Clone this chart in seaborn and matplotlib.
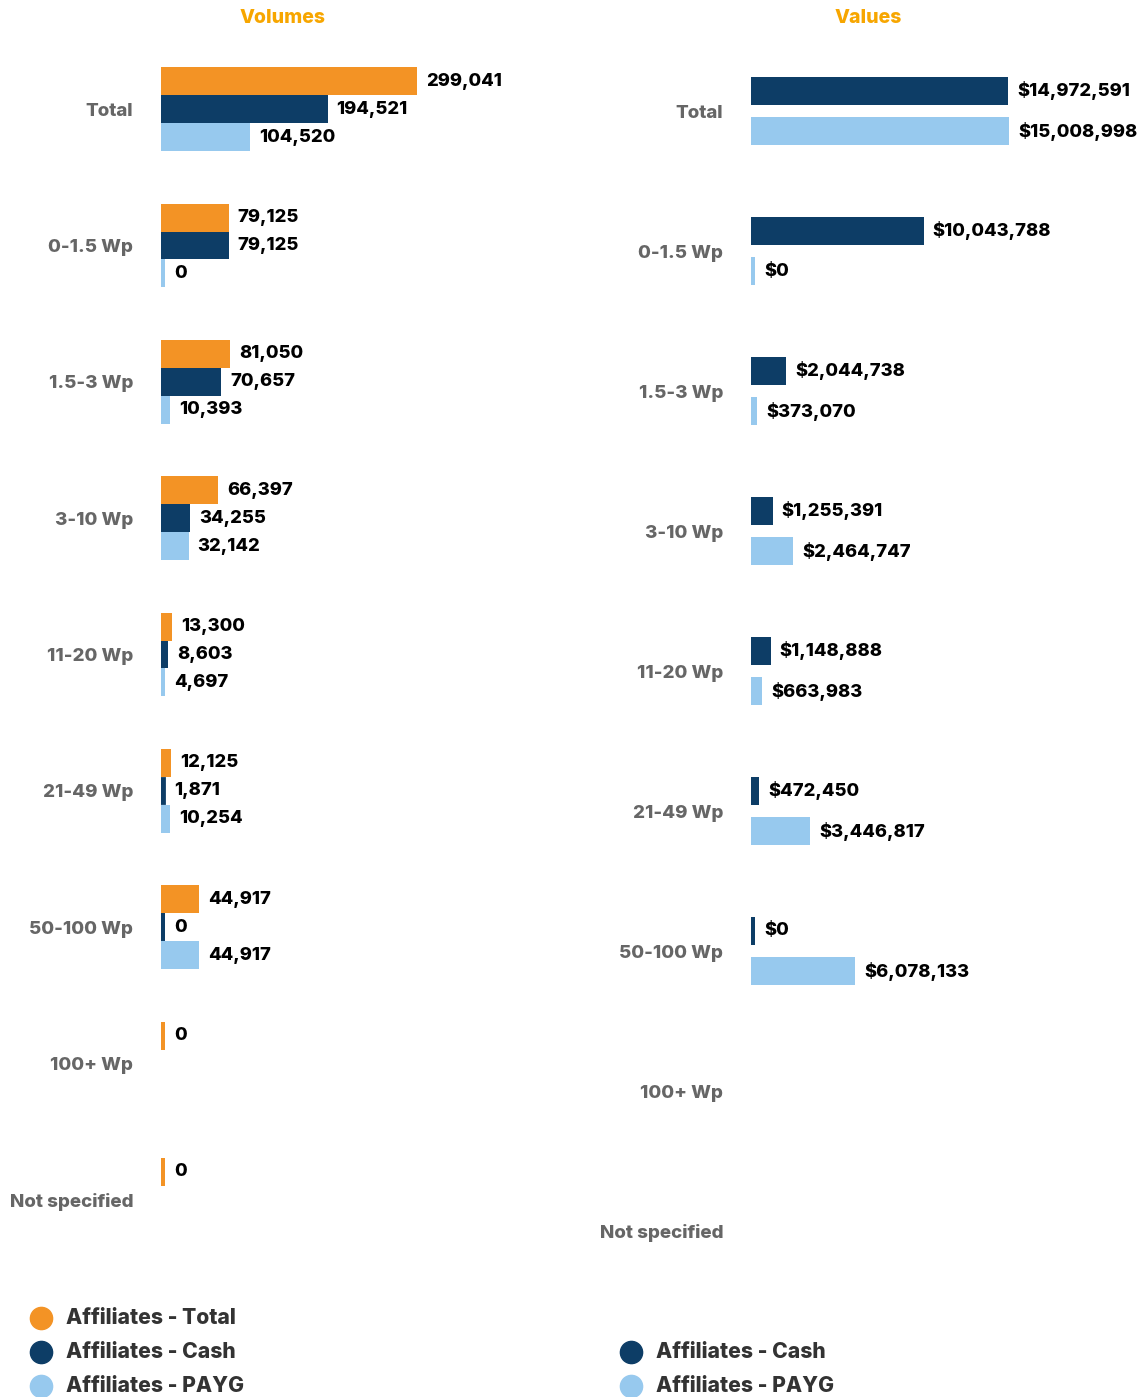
import numpy as np
import pandas as pd
import matplotlib
matplotlib.use("Agg")
import matplotlib.pyplot as plt
from matplotlib.lines import Line2D
import seaborn as sns

# ---- data ----
categories = ["Total", "0-1.5 Wp", "1.5-3 Wp", "3-10 Wp", "11-20 Wp",
              "21-49 Wp", "50-100 Wp", "100+ Wp", "Not specified"]

vol_total = [299041, 79125, 81050, 66397, 13300, 12125, 44917, 0, 0]
vol_cash = [194521, 79125, 70657, 34255, 8603, 1871, 0, None, None]
vol_payg = [104520, 0, 10393, 32142, 4697, 10254, 44917, None, None]

val_cash = [14972591, 10043788, 2044738, 1255391, 1148888, 472450, 0, None, None]
val_payg = [15008998, 0, 373070, 2464747, 663983, 3446817, 6078133, None, None]

s_total = "Affiliates - Total"
s_cash = "Affiliates - Cash"
s_payg = "Affiliates - PAYG"

colors = {s_total: "#F39325", s_cash: "#0D3D66", s_payg: "#97C9EE"}


def long_frame(series):
    rows = []
    for name, vals in series:
        for cat, v in zip(categories, vals):
            rows.append({"category": cat, "series": name,
                         "value": np.nan if v is None else float(v)})
    return pd.DataFrame(rows)


vol_df = long_frame([(s_total, vol_total), (s_cash, vol_cash), (s_payg, vol_payg)])
val_df = long_frame([(s_cash, val_cash), (s_payg, val_payg)])

# ---- figure ----
sns.set_theme(style="white")
FONT = ["Inter", "DejaVu Sans"]
plt.rcParams["font.family"] = FONT

W, H = 1143, 1397
DPI = 100
fig = plt.figure(figsize=(W / DPI, H / DPI), dpi=DPI)


def px_axes(left, top, width, bottom):
    return fig.add_axes([left / W, 1 - bottom / H, width / W, (bottom - top) / H])


ax_vol = px_axes(161, 41, 400, 1268)
ax_val = px_axes(751, 41, 380, 1301)

sns.barplot(data=vol_df, y="category", x="value", hue="series", order=categories,
            hue_order=[s_total, s_cash, s_payg], palette=colors, orient="h",
            width=0.615, gap=0, saturation=1, errorbar=None, legend=False,
            linewidth=0, ax=ax_vol)
sns.barplot(data=val_df, y="category", x="value", hue="series", order=categories,
            hue_order=[s_cash, s_payg], palette=colors, orient="h",
            width=0.585, gap=0.316, saturation=1, errorbar=None, legend=False,
            linewidth=0, ax=ax_val)

ax_vol.set_xlim(0, 299041 * 400 / 256)
ax_val.set_xlim(0, 15008998 * 380 / 258)

MIN_PX = 4.0
PAD_PX = 9.0


def finish(ax, fmt):
    ax.set_ylim(len(categories) - 0.5, -0.5)
    xscale = ax.bbox.width / (ax.get_xlim()[1] - ax.get_xlim()[0])
    yscale = ax.bbox.height / len(categories)
    for bars in ax.containers:
        for patch, val in zip(bars.patches, bars.datavalues):
            if np.isnan(val):
                continue
            w_px = patch.get_width() * xscale
            if w_px < MIN_PX:
                # keep very short bars visible: a stroke clipped at the axis
                stroke = 2 * (MIN_PX - w_px)
                if w_px > 0:
                    dy = (stroke / 2) / yscale
                    patch.set_y(patch.get_y() + dy)
                    patch.set_height(patch.get_height() - 2 * dy)
                patch.set_edgecolor(patch.get_facecolor())
                patch.set_linewidth(stroke * 72 / DPI)
                patch.set_joinstyle("miter")
            vis = max(w_px, MIN_PX)
            yc = patch.get_y() + patch.get_height() / 2
            ax.annotate(fmt(val), xy=(patch.get_width(), yc),
                        xytext=((vis - w_px + PAD_PX) * 72 / DPI, 0),
                        textcoords="offset points", ha="left", va="center",
                        fontsize=13.2, fontweight="heavy", color="#000000")
    for s in ax.spines.values():
        s.set_visible(False)
    ax.set_xticks([])
    ax.set_xlabel("")
    ax.set_ylabel("")
    ax.tick_params(axis="y", length=0, pad=20)
    for t in ax.get_yticklabels():
        t.set_fontsize(13.5)
        t.set_fontweight("heavy")
        t.set_color("#666666")
    ax.grid(False)


finish(ax_vol, lambda v: f"{v:,.0f}")
finish(ax_val, lambda v: f"${v:,.0f}")

# panel titles
fig.text(283 / W, 1 - 18 / H, "Volumes", ha="center", va="center",
         fontsize=14, fontweight="heavy", color="#F7A600")
fig.text(868 / W, 1 - 18 / H, "Values", ha="center", va="center",
         fontsize=14, fontweight="heavy", color="#F7A600")


# legends
def legend_items(x_dot, x_text, ys, names):
    for y, name in zip(ys, names):
        fig.add_artist(Line2D([x_dot / W], [1 - y / H], marker="o", markersize=16,
                              color=colors[name], linestyle="none",
                              transform=fig.transFigure))
        fig.text(x_text / W, 1 - y / H, name, ha="left", va="center",
                 fontsize=15.2, fontweight="heavy", color="#333333")


legend_items(41, 66, [1318, 1352, 1386], [s_total, s_cash, s_payg])
legend_items(631, 656, [1352, 1386], [s_cash, s_payg])

fig.savefig("out.png", dpi=DPI, facecolor="white")
